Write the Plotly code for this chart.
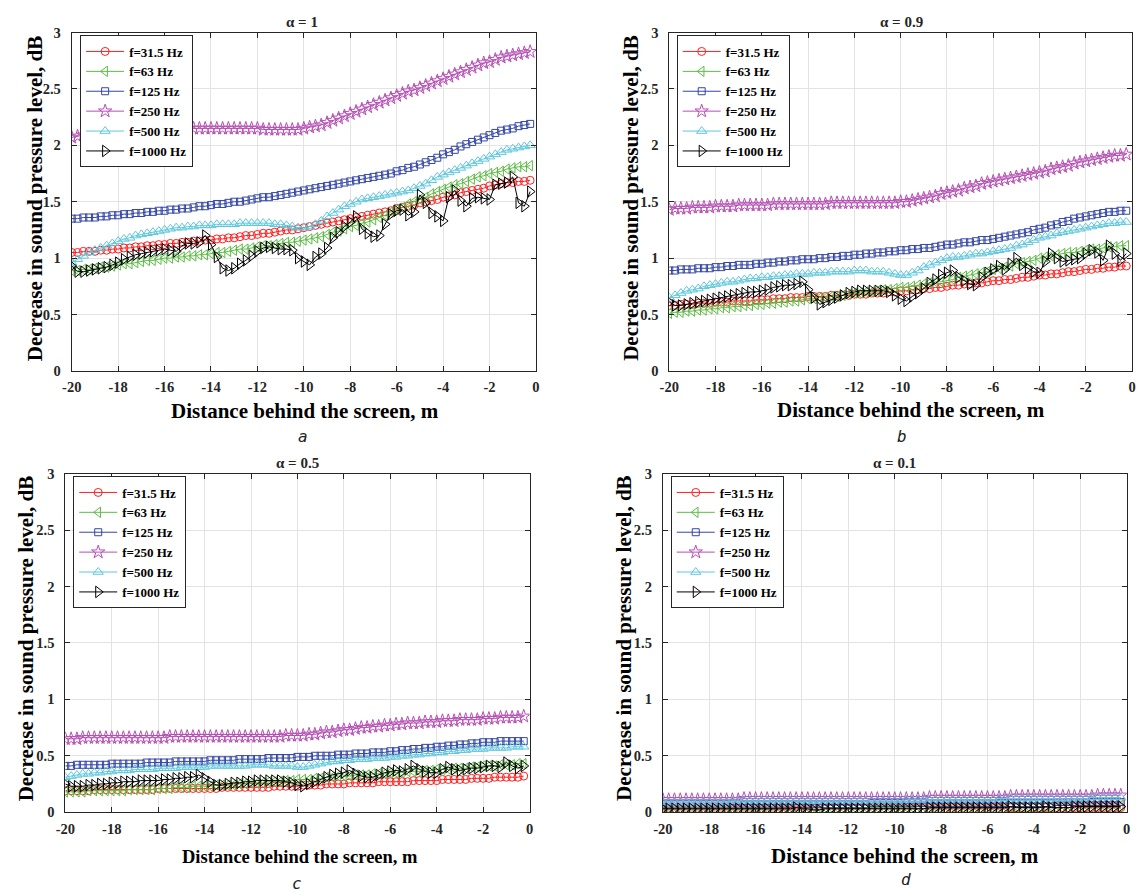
import numpy as np
import plotly.graph_objects as go

# ---------------- data ----------------
DIST = list(np.arange(-20.0, 0.0, 0.25))  # distance behind the screen, m (80 points)

FREQ_LABELS = ["f=31.5 Hz", "f=63 Hz", "f=125 Hz", "f=250 Hz", "f=500 Hz", "f=1000 Hz"]
ALPHA_TITLES = ["α = 1", "α = 0.9", "α = 0.5", "α = 0.1"]
SUB_LABELS = ["a", "b", "c", "d"]
X_TICKS = [-20, -18, -16, -14, -12, -10, -8, -6, -4, -2, 0]
X_TICK_TEXT = ["-20", "-18", "-16", "-14", "-12", "-10", "-8", "-6", "-4", "-2", "0"]
Y_TICKS = [0, 0.5, 1, 1.5, 2, 2.5, 3]
Y_TICK_TEXT = ["0", "0.5", "1", "1.5", "2", "2.5", "3"]
X_TITLE = "Distance behind the screen, m"
Y_TITLE = "Decrease in sound pressure level, dB"

# ---- alpha = 1 ----
A1_F31 = [1.05, 1.05, 1.06, 1.06, 1.06, 1.07, 1.07, 1.08,
          1.08, 1.09, 1.09, 1.10, 1.10, 1.11, 1.11, 1.12,
          1.12, 1.13, 1.13, 1.14, 1.14, 1.15, 1.15, 1.16,
          1.16, 1.17, 1.17, 1.18, 1.18, 1.19, 1.20, 1.20,
          1.21, 1.22, 1.22, 1.23, 1.24, 1.25, 1.25, 1.26,
          1.27, 1.28, 1.29, 1.30, 1.31, 1.32, 1.33, 1.34,
          1.35, 1.36, 1.37, 1.38, 1.39, 1.40, 1.41, 1.42,
          1.44, 1.45, 1.46, 1.47, 1.49, 1.50, 1.51, 1.52,
          1.54, 1.55, 1.56, 1.58, 1.59, 1.60, 1.61, 1.62,
          1.64, 1.65, 1.66, 1.67, 1.67, 1.68, 1.68, 1.69]
A1_F63 = [0.89, 0.89, 0.90, 0.90, 0.91, 0.92, 0.92, 0.93,
          0.94, 0.95, 0.95, 0.96, 0.97, 0.98, 0.98, 0.99,
          1.00, 1.00, 1.01, 1.01, 1.02, 1.02, 1.03, 1.03,
          1.04, 1.05, 1.05, 1.06, 1.07, 1.08, 1.08, 1.09,
          1.10, 1.11, 1.11, 1.12, 1.13, 1.14, 1.14, 1.15,
          1.16, 1.17, 1.18, 1.19, 1.21, 1.23, 1.24, 1.26,
          1.28, 1.29, 1.31, 1.32, 1.34, 1.36, 1.38, 1.41,
          1.43, 1.45, 1.48, 1.50, 1.52, 1.54, 1.57, 1.59,
          1.61, 1.63, 1.65, 1.66, 1.68, 1.70, 1.72, 1.73,
          1.75, 1.76, 1.77, 1.79, 1.80, 1.81, 1.81, 1.82]
A1_F125 = [1.35, 1.35, 1.36, 1.36, 1.36, 1.37, 1.37, 1.38,
           1.38, 1.39, 1.39, 1.40, 1.40, 1.41, 1.41, 1.42,
           1.42, 1.43, 1.43, 1.44, 1.44, 1.45, 1.46, 1.46,
           1.47, 1.48, 1.48, 1.49, 1.50, 1.50, 1.51, 1.52,
           1.53, 1.54, 1.54, 1.55, 1.56, 1.57, 1.58, 1.59,
           1.60, 1.61, 1.62, 1.63, 1.64, 1.65, 1.66, 1.67,
           1.68, 1.69, 1.70, 1.71, 1.72, 1.73, 1.74, 1.75,
           1.77, 1.78, 1.80, 1.81, 1.83, 1.85, 1.87, 1.89,
           1.92, 1.94, 1.96, 1.99, 2.01, 2.03, 2.05, 2.07,
           2.09, 2.11, 2.13, 2.14, 2.15, 2.17, 2.18, 2.19]
A1_F250 = [2.07, 2.08, 2.09, 2.10, 2.11, 2.12, 2.13, 2.13,
           2.14, 2.14, 2.14, 2.15, 2.15, 2.15, 2.15, 2.15,
           2.15, 2.15, 2.15, 2.15, 2.15, 2.15, 2.15, 2.15,
           2.15, 2.15, 2.15, 2.15, 2.15, 2.15, 2.15, 2.15,
           2.15, 2.14, 2.14, 2.14, 2.14, 2.14, 2.14, 2.14,
           2.15, 2.16, 2.17, 2.18, 2.20, 2.22, 2.24, 2.26,
           2.28, 2.30, 2.32, 2.34, 2.36, 2.38, 2.40, 2.42,
           2.44, 2.46, 2.48, 2.49, 2.51, 2.53, 2.55, 2.57,
           2.59, 2.61, 2.63, 2.65, 2.67, 2.69, 2.71, 2.73,
           2.74, 2.76, 2.78, 2.79, 2.80, 2.81, 2.82, 2.83]
A1_F500 = [0.96, 0.99, 1.02, 1.05, 1.07, 1.09, 1.11, 1.13,
           1.15, 1.17, 1.18, 1.20, 1.21, 1.22, 1.23, 1.24,
           1.25, 1.26, 1.27, 1.27, 1.28, 1.28, 1.29, 1.29,
           1.29, 1.30, 1.30, 1.30, 1.30, 1.31, 1.31, 1.31,
           1.31, 1.31, 1.31, 1.30, 1.30, 1.29, 1.28, 1.27,
           1.27, 1.28, 1.30, 1.33, 1.37, 1.40, 1.43, 1.46,
           1.48, 1.50, 1.52, 1.53, 1.54, 1.55, 1.56, 1.57,
           1.58, 1.59, 1.60, 1.62, 1.64, 1.66, 1.69, 1.72,
           1.74, 1.76, 1.78, 1.80, 1.82, 1.84, 1.86, 1.88,
           1.90, 1.92, 1.94, 1.96, 1.97, 1.98, 1.99, 2.00]
A1_F1000 = [0.93, 0.88, 0.88, 0.89, 0.90, 0.91, 0.92, 0.94,
            0.96, 0.99, 1.01, 1.03, 1.04, 1.05, 1.06, 1.07,
            1.08, 1.07, 1.06, 1.11, 1.13, 1.13, 1.14, 1.20,
            1.12, 1.01, 0.91, 0.89, 0.91, 0.95, 0.98, 1.02,
            1.06, 1.09, 1.10, 1.09, 1.08, 1.08, 1.07, 1.00,
            0.97, 0.94, 1.01, 1.04, 1.09, 1.18, 1.23, 1.28,
            1.32, 1.37, 1.26, 1.22, 1.19, 1.20, 1.30, 1.39,
            1.42, 1.43, 1.38, 1.41, 1.56, 1.49, 1.40, 1.37,
            1.33, 1.54, 1.60, 1.51, 1.46, 1.53, 1.54, 1.53,
            1.52, 1.65, 1.66, 1.67, 1.72, 1.49, 1.46, 1.59]

# ---- alpha = 0.9 ----
A09_F31 = [0.58, 0.58, 0.59, 0.59, 0.59, 0.60, 0.60, 0.60,
           0.61, 0.61, 0.61, 0.62, 0.62, 0.62, 0.62, 0.63,
           0.63, 0.63, 0.64, 0.64, 0.64, 0.65, 0.65, 0.65,
           0.66, 0.66, 0.66, 0.66, 0.67, 0.67, 0.67, 0.67,
           0.68, 0.68, 0.68, 0.69, 0.69, 0.69, 0.70, 0.70,
           0.71, 0.71, 0.72, 0.72, 0.73, 0.73, 0.74, 0.74,
           0.75, 0.76, 0.76, 0.77, 0.77, 0.78, 0.78, 0.79,
           0.80, 0.80, 0.81, 0.81, 0.82, 0.83, 0.83, 0.84,
           0.85, 0.85, 0.86, 0.86, 0.87, 0.88, 0.88, 0.89,
           0.90, 0.90, 0.91, 0.91, 0.92, 0.92, 0.93, 0.93]
A09_F63 = [0.51, 0.52, 0.52, 0.53, 0.53, 0.54, 0.54, 0.55,
           0.55, 0.56, 0.56, 0.57, 0.57, 0.58, 0.58, 0.59,
           0.59, 0.60, 0.60, 0.61, 0.61, 0.62, 0.62, 0.63,
           0.64, 0.64, 0.65, 0.65, 0.66, 0.66, 0.67, 0.68,
           0.69, 0.69, 0.70, 0.70, 0.71, 0.72, 0.72, 0.73,
           0.74, 0.74, 0.75, 0.76, 0.77, 0.78, 0.79, 0.79,
           0.80, 0.81, 0.83, 0.84, 0.85, 0.86, 0.87, 0.88,
           0.90, 0.91, 0.92, 0.93, 0.95, 0.96, 0.97, 0.98,
           1.00, 1.01, 1.02, 1.03, 1.04, 1.05, 1.05, 1.06,
           1.07, 1.08, 1.08, 1.09, 1.10, 1.10, 1.11, 1.11]
A09_F125 = [0.89, 0.89, 0.90, 0.90, 0.90, 0.91, 0.91, 0.91,
            0.92, 0.92, 0.93, 0.93, 0.94, 0.94, 0.94, 0.95,
            0.95, 0.96, 0.96, 0.97, 0.97, 0.98, 0.98, 0.99,
            0.99, 0.99, 1.00, 1.00, 1.01, 1.01, 1.02, 1.02,
            1.03, 1.03, 1.04, 1.04, 1.05, 1.05, 1.06, 1.06,
            1.07, 1.07, 1.08, 1.08, 1.09, 1.09, 1.10, 1.11,
            1.12, 1.12, 1.13, 1.14, 1.14, 1.15, 1.16, 1.16,
            1.17, 1.18, 1.19, 1.20, 1.21, 1.22, 1.23, 1.25,
            1.26, 1.27, 1.29, 1.30, 1.32, 1.33, 1.35, 1.36,
            1.37, 1.38, 1.39, 1.40, 1.41, 1.41, 1.42, 1.42]
A09_F250 = [1.43, 1.44, 1.44, 1.44, 1.45, 1.45, 1.45, 1.45,
            1.46, 1.46, 1.46, 1.46, 1.47, 1.47, 1.47, 1.47,
            1.47, 1.47, 1.48, 1.48, 1.48, 1.48, 1.48, 1.48,
            1.48, 1.48, 1.48, 1.48, 1.49, 1.49, 1.49, 1.49,
            1.49, 1.49, 1.49, 1.49, 1.49, 1.49, 1.49, 1.49,
            1.50, 1.50, 1.51, 1.52, 1.53, 1.54, 1.55, 1.57,
            1.58, 1.59, 1.60, 1.62, 1.63, 1.64, 1.66, 1.67,
            1.68, 1.69, 1.70, 1.71, 1.72, 1.73, 1.74, 1.75,
            1.76, 1.77, 1.79, 1.80, 1.81, 1.82, 1.84, 1.85,
            1.86, 1.87, 1.88, 1.89, 1.90, 1.91, 1.91, 1.92]
A09_F500 = [0.65, 0.67, 0.69, 0.71, 0.72, 0.73, 0.75, 0.76,
            0.77, 0.78, 0.79, 0.79, 0.80, 0.81, 0.82, 0.82,
            0.83, 0.83, 0.84, 0.84, 0.85, 0.85, 0.86, 0.86,
            0.86, 0.87, 0.87, 0.87, 0.88, 0.88, 0.88, 0.88,
            0.89, 0.89, 0.89, 0.88, 0.88, 0.88, 0.87, 0.86,
            0.85, 0.85, 0.87, 0.89, 0.92, 0.94, 0.96, 0.98,
            1.00, 1.01, 1.01, 1.02, 1.03, 1.04, 1.04, 1.05,
            1.06, 1.07, 1.08, 1.09, 1.11, 1.12, 1.14, 1.16,
            1.18, 1.19, 1.20, 1.22, 1.23, 1.24, 1.25, 1.26,
            1.27, 1.28, 1.29, 1.30, 1.31, 1.31, 1.32, 1.32]
A09_F1000 = [0.61, 0.58, 0.58, 0.59, 0.60, 0.61, 0.62, 0.63,
             0.64, 0.65, 0.66, 0.67, 0.68, 0.69, 0.70, 0.70,
             0.71, 0.72, 0.74, 0.75, 0.76, 0.76, 0.77, 0.79,
             0.72, 0.65, 0.59, 0.61, 0.63, 0.65, 0.67, 0.69,
             0.70, 0.71, 0.71, 0.71, 0.71, 0.71, 0.70, 0.67,
             0.64, 0.62, 0.66, 0.69, 0.73, 0.78, 0.81, 0.85,
             0.87, 0.89, 0.83, 0.80, 0.77, 0.76, 0.83, 0.87,
             0.90, 0.93, 0.90, 0.95, 1.00, 0.94, 0.91, 0.88,
             0.87, 0.97, 1.04, 1.00, 0.97, 0.98, 0.99, 1.00,
             1.04, 1.07, 1.05, 0.98, 1.11, 1.04, 0.98, 1.04]

# ---- alpha = 0.5 ----
A05_F31 = [0.19, 0.19, 0.19, 0.19, 0.19, 0.20, 0.20, 0.20,
           0.20, 0.20, 0.20, 0.20, 0.20, 0.20, 0.20, 0.20,
           0.21, 0.21, 0.21, 0.21, 0.21, 0.21, 0.21, 0.21,
           0.21, 0.21, 0.21, 0.22, 0.22, 0.22, 0.22, 0.22,
           0.22, 0.22, 0.22, 0.22, 0.23, 0.23, 0.23, 0.23,
           0.23, 0.24, 0.24, 0.24, 0.24, 0.25, 0.25, 0.25,
           0.25, 0.26, 0.26, 0.26, 0.26, 0.26, 0.27, 0.27,
           0.27, 0.27, 0.27, 0.27, 0.28, 0.28, 0.28, 0.28,
           0.28, 0.29, 0.29, 0.29, 0.29, 0.29, 0.30, 0.30,
           0.30, 0.30, 0.31, 0.31, 0.31, 0.31, 0.31, 0.32]
A05_F63 = [0.18, 0.18, 0.18, 0.18, 0.19, 0.19, 0.19, 0.19,
           0.19, 0.19, 0.19, 0.20, 0.20, 0.20, 0.20, 0.20,
           0.21, 0.21, 0.21, 0.22, 0.22, 0.22, 0.23, 0.23,
           0.23, 0.23, 0.24, 0.24, 0.24, 0.24, 0.25, 0.25,
           0.26, 0.26, 0.26, 0.27, 0.27, 0.27, 0.28, 0.28,
           0.29, 0.29, 0.29, 0.30, 0.30, 0.31, 0.31, 0.32,
           0.32, 0.32, 0.33, 0.33, 0.33, 0.34, 0.34, 0.34,
           0.35, 0.35, 0.35, 0.36, 0.36, 0.36, 0.37, 0.37,
           0.38, 0.38, 0.38, 0.39, 0.39, 0.39, 0.40, 0.40,
           0.41, 0.41, 0.41, 0.42, 0.42, 0.42, 0.43, 0.43]
A05_F125 = [0.41, 0.41, 0.42, 0.42, 0.42, 0.42, 0.42, 0.42,
            0.43, 0.43, 0.43, 0.43, 0.43, 0.43, 0.44, 0.44,
            0.44, 0.44, 0.44, 0.45, 0.45, 0.45, 0.45, 0.45,
            0.45, 0.46, 0.46, 0.46, 0.46, 0.46, 0.47, 0.47,
            0.47, 0.47, 0.47, 0.48, 0.48, 0.48, 0.48, 0.48,
            0.49, 0.49, 0.49, 0.50, 0.50, 0.50, 0.50, 0.51,
            0.51, 0.51, 0.52, 0.52, 0.52, 0.53, 0.53, 0.53,
            0.54, 0.54, 0.55, 0.55, 0.56, 0.56, 0.57, 0.57,
            0.58, 0.58, 0.59, 0.59, 0.60, 0.60, 0.61, 0.61,
            0.62, 0.62, 0.62, 0.63, 0.63, 0.63, 0.63, 0.63]
A05_F250 = [0.65, 0.65, 0.65, 0.66, 0.66, 0.66, 0.66, 0.66,
            0.66, 0.66, 0.66, 0.66, 0.66, 0.66, 0.66, 0.66,
            0.66, 0.66, 0.67, 0.67, 0.67, 0.67, 0.67, 0.67,
            0.67, 0.67, 0.67, 0.67, 0.67, 0.67, 0.67, 0.67,
            0.67, 0.67, 0.67, 0.67, 0.67, 0.67, 0.68, 0.68,
            0.68, 0.68, 0.69, 0.69, 0.70, 0.71, 0.71, 0.72,
            0.73, 0.73, 0.74, 0.75, 0.75, 0.76, 0.76, 0.77,
            0.77, 0.78, 0.78, 0.79, 0.79, 0.79, 0.80, 0.80,
            0.80, 0.81, 0.81, 0.81, 0.82, 0.82, 0.82, 0.82,
            0.83, 0.83, 0.83, 0.84, 0.84, 0.84, 0.84, 0.85]
A05_F500 = [0.31, 0.32, 0.33, 0.34, 0.34, 0.35, 0.35, 0.36,
            0.36, 0.37, 0.37, 0.37, 0.38, 0.38, 0.38, 0.38,
            0.39, 0.39, 0.39, 0.39, 0.40, 0.40, 0.40, 0.40,
            0.40, 0.41, 0.41, 0.41, 0.41, 0.41, 0.41, 0.41,
            0.42, 0.42, 0.42, 0.42, 0.41, 0.41, 0.41, 0.41,
            0.40, 0.40, 0.41, 0.42, 0.43, 0.44, 0.45, 0.45,
            0.46, 0.46, 0.47, 0.47, 0.47, 0.48, 0.48, 0.48,
            0.49, 0.49, 0.50, 0.50, 0.51, 0.51, 0.52, 0.52,
            0.53, 0.53, 0.54, 0.54, 0.55, 0.55, 0.56, 0.56,
            0.56, 0.57, 0.57, 0.57, 0.57, 0.58, 0.58, 0.58]
A05_F1000 = [0.25, 0.23, 0.23, 0.23, 0.24, 0.24, 0.25, 0.25,
             0.26, 0.26, 0.27, 0.27, 0.27, 0.28, 0.28, 0.28,
             0.28, 0.29, 0.29, 0.30, 0.30, 0.31, 0.31, 0.33,
             0.30, 0.27, 0.24, 0.24, 0.25, 0.26, 0.26, 0.27,
             0.27, 0.28, 0.28, 0.28, 0.28, 0.28, 0.27, 0.26,
             0.24, 0.23, 0.25, 0.27, 0.29, 0.31, 0.33, 0.34,
             0.35, 0.37, 0.34, 0.32, 0.31, 0.31, 0.33, 0.35,
             0.36, 0.37, 0.36, 0.38, 0.41, 0.38, 0.36, 0.35,
             0.35, 0.38, 0.40, 0.38, 0.37, 0.38, 0.39, 0.39,
             0.40, 0.41, 0.41, 0.40, 0.44, 0.41, 0.39, 0.41]

# ---- alpha = 0.1 ----
A01_F31 = [0.02, 0.02, 0.02, 0.02, 0.02, 0.02, 0.02, 0.02,
           0.02, 0.02, 0.02, 0.02, 0.02, 0.02, 0.02, 0.02,
           0.02, 0.02, 0.02, 0.02, 0.02, 0.02, 0.02, 0.02,
           0.02, 0.02, 0.02, 0.02, 0.03, 0.03, 0.03, 0.03,
           0.03, 0.03, 0.03, 0.03, 0.03, 0.03, 0.03, 0.03,
           0.03, 0.03, 0.03, 0.03, 0.03, 0.03, 0.03, 0.03,
           0.03, 0.03, 0.03, 0.03, 0.03, 0.03, 0.03, 0.03,
           0.03, 0.03, 0.03, 0.03, 0.04, 0.04, 0.04, 0.04,
           0.04, 0.04, 0.04, 0.04, 0.04, 0.04, 0.04, 0.04,
           0.04, 0.04, 0.04, 0.04, 0.04, 0.04, 0.04, 0.04]
A01_F63 = [0.03, 0.03, 0.03, 0.03, 0.03, 0.03, 0.03, 0.03,
           0.03, 0.03, 0.03, 0.03, 0.03, 0.03, 0.03, 0.03,
           0.03, 0.03, 0.03, 0.03, 0.04, 0.04, 0.04, 0.04,
           0.04, 0.04, 0.04, 0.04, 0.04, 0.04, 0.04, 0.04,
           0.04, 0.04, 0.04, 0.04, 0.04, 0.04, 0.04, 0.04,
           0.04, 0.04, 0.04, 0.04, 0.05, 0.05, 0.05, 0.05,
           0.05, 0.05, 0.05, 0.05, 0.05, 0.05, 0.05, 0.05,
           0.05, 0.05, 0.05, 0.05, 0.05, 0.05, 0.05, 0.05,
           0.05, 0.05, 0.05, 0.05, 0.06, 0.06, 0.06, 0.06,
           0.06, 0.06, 0.06, 0.06, 0.06, 0.06, 0.06, 0.06]
A01_F125 = [0.07, 0.07, 0.07, 0.07, 0.07, 0.07, 0.07, 0.07,
            0.07, 0.07, 0.07, 0.07, 0.07, 0.07, 0.07, 0.07,
            0.07, 0.07, 0.07, 0.07, 0.07, 0.07, 0.07, 0.07,
            0.07, 0.07, 0.07, 0.07, 0.07, 0.07, 0.07, 0.07,
            0.07, 0.07, 0.07, 0.07, 0.08, 0.08, 0.08, 0.08,
            0.08, 0.08, 0.08, 0.08, 0.08, 0.08, 0.08, 0.08,
            0.08, 0.08, 0.08, 0.08, 0.08, 0.08, 0.08, 0.08,
            0.08, 0.08, 0.08, 0.08, 0.08, 0.08, 0.08, 0.08,
            0.08, 0.08, 0.08, 0.08, 0.09, 0.09, 0.09, 0.09,
            0.09, 0.09, 0.09, 0.09, 0.09, 0.09, 0.09, 0.09]
A01_F250 = [0.11, 0.11, 0.11, 0.11, 0.11, 0.11, 0.11, 0.11,
            0.11, 0.11, 0.11, 0.11, 0.11, 0.11, 0.12, 0.12,
            0.12, 0.12, 0.12, 0.12, 0.12, 0.12, 0.12, 0.12,
            0.12, 0.12, 0.12, 0.12, 0.12, 0.12, 0.12, 0.12,
            0.12, 0.12, 0.12, 0.12, 0.12, 0.12, 0.12, 0.12,
            0.12, 0.12, 0.12, 0.12, 0.12, 0.12, 0.13, 0.13,
            0.13, 0.13, 0.13, 0.13, 0.13, 0.13, 0.13, 0.13,
            0.13, 0.13, 0.13, 0.13, 0.14, 0.14, 0.14, 0.14,
            0.14, 0.14, 0.14, 0.14, 0.14, 0.14, 0.14, 0.14,
            0.14, 0.14, 0.14, 0.15, 0.15, 0.15, 0.15, 0.15]
A01_F500 = [0.09, 0.09, 0.09, 0.09, 0.09, 0.09, 0.09, 0.09,
            0.09, 0.09, 0.09, 0.09, 0.10, 0.10, 0.10, 0.10,
            0.10, 0.10, 0.10, 0.10, 0.10, 0.10, 0.10, 0.10,
            0.10, 0.10, 0.10, 0.10, 0.10, 0.10, 0.10, 0.10,
            0.10, 0.10, 0.10, 0.10, 0.10, 0.10, 0.10, 0.10,
            0.10, 0.10, 0.11, 0.11, 0.11, 0.11, 0.11, 0.11,
            0.11, 0.11, 0.11, 0.11, 0.11, 0.11, 0.11, 0.11,
            0.11, 0.11, 0.12, 0.12, 0.12, 0.12, 0.12, 0.12,
            0.12, 0.12, 0.12, 0.12, 0.12, 0.12, 0.12, 0.12,
            0.12, 0.12, 0.13, 0.13, 0.13, 0.13, 0.13, 0.13]
A01_F1000 = [0.03, 0.03, 0.03, 0.03, 0.03, 0.03, 0.03, 0.03,
             0.03, 0.03, 0.03, 0.03, 0.03, 0.03, 0.03, 0.03,
             0.03, 0.03, 0.03, 0.03, 0.03, 0.03, 0.03, 0.04,
             0.03, 0.03, 0.02, 0.02, 0.03, 0.03, 0.03, 0.03,
             0.03, 0.03, 0.03, 0.03, 0.03, 0.03, 0.03, 0.03,
             0.03, 0.03, 0.03, 0.03, 0.03, 0.03, 0.04, 0.04,
             0.04, 0.04, 0.04, 0.04, 0.04, 0.04, 0.04, 0.04,
             0.04, 0.04, 0.04, 0.04, 0.05, 0.04, 0.04, 0.04,
             0.04, 0.04, 0.05, 0.04, 0.04, 0.04, 0.04, 0.05,
             0.05, 0.05, 0.05, 0.05, 0.05, 0.05, 0.05, 0.05]

PANEL_SERIES = [
    [A1_F31, A1_F63, A1_F125, A1_F250, A1_F500, A1_F1000],
    [A09_F31, A09_F63, A09_F125, A09_F250, A09_F500, A09_F1000],
    [A05_F31, A05_F63, A05_F125, A05_F250, A05_F500, A05_F1000],
    [A01_F31, A01_F63, A01_F125, A01_F250, A01_F500, A01_F1000],
]

# ---------------- styling ----------------
W, H = 1137, 895
COLORS = ["#ff1f1f", "#5cbb44", "#3446a6", "#b64fb4", "#5ec7dc", "#000000"]
SYMBOLS = ["circle-open", "triangle-left-open", "square-open", "star-open",
           "triangle-up-open", "triangle-right-open"]
SIZES = [8, 9, 7, 10, 9, 10]
SERIF = "Liberation Serif, Times New Roman, serif"

# pixel geometry of each panel: plot box (x0, x1, ytop, ybottom)
BOXES = [(62.5, 532.5, 25.0, 369.5),
         (667.5, 1136.0, 25.0, 369.5),
         (56.0, 526.0, 474.3, 818.8),
         (661.0, 1130.5, 474.3, 818.8)]
LEGEND_POS = [(71, 28), (675, 28), (64, 477), (669, 477)]
TITLE_POS = [(296, 14), (903, 14), (291, 463), (896, 463)]
XLAB = [(299, 410, 21), (912, 409, 21), (294, 864, 18.5), (906, 863, 21)]
YLAB = [(25, 194), (628, 193), (16, 642), (621, 641)]
SUBLAB = [(297, 436), (903, 436), (291, 891), (907, 887)]


def fx(p):
    return p / W


def fy(p):
    return 1 - p / H


fig = go.Figure()
annotations = []
layout = {}

for i in range(4):
    x0, x1, yt, yb = BOXES[i]
    sfx = "" if i == 0 else str(i + 1)
    legname = "legend" + sfx
    for j in range(6):
        fig.add_trace(go.Scatter(
            x=DIST, y=PANEL_SERIES[i][j], name=FREQ_LABELS[j],
            mode="lines+markers",
            line=dict(color=COLORS[j], width=1),
            marker=dict(symbol=SYMBOLS[j], size=SIZES[j], color=COLORS[j],
                        line=dict(width=1, color=COLORS[j])),
            xaxis="x" + sfx, yaxis="y" + sfx, legend=legname,
        ))
    axis_common = dict(
        showline=True, mirror="ticks", linecolor="#262626", linewidth=1,
        ticks="inside", ticklen=5, tickcolor="#262626", tickwidth=1,
        showgrid=True, gridcolor="#e3e3e3", gridwidth=1, zeroline=False,
        tickfont=dict(family=SERIF, size=14.5, color="#262626", weight="bold"),
    )
    layout["xaxis" + sfx] = dict(
        axis_common, domain=[fx(x0), fx(x1)], range=[-20, 0],
        tickvals=X_TICKS, ticktext=X_TICK_TEXT, anchor="y" + sfx,
        ticklabelstandoff=3,
    )
    layout["yaxis" + sfx] = dict(
        axis_common, domain=[fy(yb), fy(yt)], range=[0, 3],
        tickvals=Y_TICKS, ticktext=Y_TICK_TEXT, anchor="x" + sfx,
        ticklabelstandoff=7,
    )
    lx, ly = LEGEND_POS[i]
    layout[legname] = dict(
        x=fx(lx), y=fy(ly), xanchor="left", yanchor="top",
        bgcolor="white", bordercolor="#262626", borderwidth=1,
        font=dict(family=SERIF, size=13, color="black", weight="bold"),
        itemwidth=38, tracegroupgap=0,
    )
    tx, ty = TITLE_POS[i]
    annotations.append(dict(
        x=fx(tx), y=fy(ty), xref="paper", yref="paper", showarrow=False,
        text="<b>" + ALPHA_TITLES[i] + "</b>", xanchor="center", yanchor="middle",
        font=dict(family=SERIF, size=15, color="#262626")))
    ax_, ay_, asz = XLAB[i]
    annotations.append(dict(
        x=fx(ax_), y=fy(ay_), xref="paper", yref="paper", showarrow=False,
        text="<b>" + X_TITLE + "</b>", xanchor="center", yanchor="middle",
        font=dict(family=SERIF, size=asz, color="black")))
    yx, yy = YLAB[i]
    annotations.append(dict(
        x=fx(yx), y=fy(yy), xref="paper", yref="paper", showarrow=False,
        text="<b>" + Y_TITLE + "</b>", textangle=-90, xanchor="center",
        yanchor="middle", font=dict(family=SERIF, size=21, color="black")))
    sx, sy = SUBLAB[i]
    annotations.append(dict(
        x=fx(sx), y=fy(sy), xref="paper", yref="paper", showarrow=False,
        text="<i>" + SUB_LABELS[i] + "</i>", xanchor="center", yanchor="middle",
        font=dict(family="DejaVu Sans Mono", size=16, color="#222222")))

fig.update_layout(
    width=W, height=H, margin=dict(l=0, r=0, t=0, b=0),
    paper_bgcolor="white", plot_bgcolor="white",
    font=dict(family=SERIF),
    annotations=annotations, **layout,
)

fig.write_html("out.html")
